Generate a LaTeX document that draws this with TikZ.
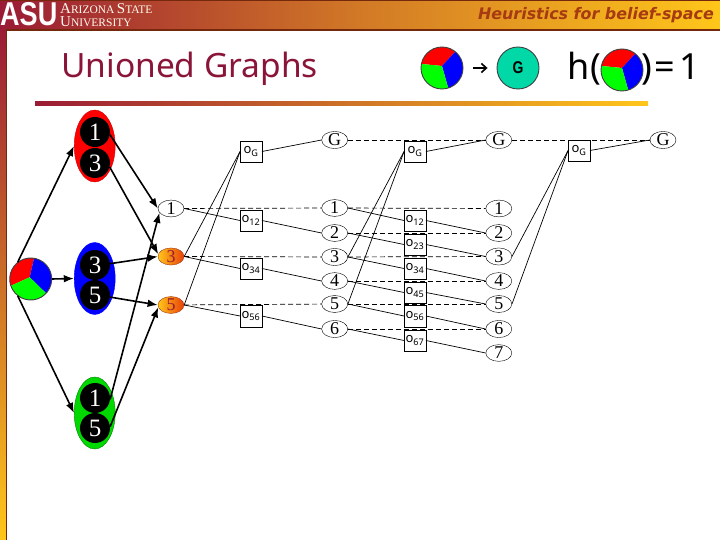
\documentclass[tikz,border=0pt]{standalone}
\usepackage{fontspec}
\setmainfont{Liberation Serif}
\newfontfamily\slidefont{Noto Sans}
\newfontfamily\headfont{DejaVu Sans}
\newfontfamily\logofont[FakeStretch=0.82]{Liberation Sans}
\usetikzlibrary{arrows.meta,positioning,shapes.geometric}
\definecolor{asumaroon}{HTML}{9A1B35}
\definecolor{asugold}{HTML}{FFC61A}
\definecolor{asurust}{HTML}{A63A12}
\definecolor{titlered}{HTML}{8A1538}
\definecolor{goalgreen}{HTML}{00D8A8}
\definecolor{hotred}{HTML}{E8400A}
\newcommand{\capsize}[2]{{\fontsize{#1}{#1}\selectfont #2}}

\begin{document}
\begin{tikzpicture}[
  x=1pt,y=-1pt,
  >=Latex,
  fact/.style={
    draw,
    ellipse,
    fill=white,
    inner sep=0pt,
    minimum width=26pt,
    minimum height=15.5pt,
    font=\fontsize{18}{18}\selectfont
  },
  hotfact/.style={
    fact,
    draw=asurust,
    left color=asugold,
    right color=hotred,
    text=asumaroon
  },
  action/.style={
    draw,
    fill=white,
    inner sep=0pt,
    minimum width=21.5pt,
    minimum height=21.5pt,
    font=\slidefont\fontsize{13}{13}\selectfont
  },
  group/.style={
    draw,
    ellipse,
    inner sep=0pt,
    minimum width=41pt,
    minimum height=72pt
  },
  lit/.style={
    circle,
    fill=black,
    text=white,
    inner sep=0pt,
    minimum size=30pt,
    font=\fontsize{25}{25}\selectfont
  },
  pienode/.style={circle,inner sep=0pt,minimum size=42pt},
  beliefpie/.pic={
    \begin{scope}
      \clip (0,0) circle (21);
      \fill[red] (0,-2) -- (-30,-5) -- (-30,-30) -- (26,-30) -- cycle;
      \fill[blue] (0,-2) -- (26,-30) -- (30,-30) -- (30,30) -- (9,30) -- cycle;
      \fill[green] (0,-2) -- (9,30) -- (-30,30) -- (-30,-5) -- cycle;
    \end{scope}
    \draw[black!75,line width=0.9pt] (0,0) circle (21);
  },
  school/.style={anchor=base west,inner sep=0pt,text height=0pt,text depth=0pt,text=white!92!asugold},
  heavy/.style={->,line width=1.6pt},
  noop/.style={line width=0.7pt,dash pattern=on 5pt off 3pt},
  link/.style={line width=0.7pt}
]
  \useasboundingbox (0,0) rectangle (720,540);

  % slide frame
  \shade[left color=asumaroon,right color=asugold,middle color=asugold!55!asumaroon] (0,0) rectangle (720,30);
  \fill[asurust!70!black] (0,0) rectangle (720,1);
  \fill[asurust!70!black] (0,29.5) rectangle (720,31);
  \shade[top color=asumaroon,bottom color=asugold] (0,30) rectangle (6,540);
  \fill[asurust!70!black] (6,30) rectangle (7,540);
  \shade[left color=asumaroon,right color=asugold] (35,102) rectangle (648,106);

  \node[anchor=base west,inner sep=0pt,text=white,font=\logofont\bfseries\fontsize{33}{33}\selectfont] (logo) at (0,26) {ASU};
  \node[school] (arizona) at (60,13.5) {\capsize{15}{A}\capsize{11.5}{RIZONA} \capsize{15}{S}\capsize{11.5}{TATE}};
  \node[school] (university) at (60,26.5) {\capsize{15}{U}\capsize{11.5}{NIVERSITY}};
  \node[anchor=east,inner sep=0pt,text=asurust,font=\headfont\bfseries\itshape\fontsize{15.9}{15.9}\selectfont] (header) at (714,15) {Heuristics for belief-space};
  \node[anchor=base west,inner sep=0pt,text=titlered,font=\slidefont\fontsize{33.5}{33.5}\selectfont] (title) at (61,78) {Unioned Graphs};

  % heuristic legend
  \node[pienode] (start) at (442,68) {};
  \pic at (start) {beliefpie};
  \node[pienode,draw=black!75,line width=0.9pt,fill=goalgreen,font=\logofont\bfseries\fontsize{17}{17}\selectfont] (goal) at (518,68) {G};
  \draw[-{Straight Barb[length=5pt,width=9pt]},line width=1.6pt,shorten <=10pt,shorten >=9pt] (start) -- (goal);
  \node[pienode] (hstate) at (622,70) {};
  \node[anchor=base east,inner sep=0pt,font=\slidefont\fontsize{36}{36}\selectfont] (hleft) at (601,80) {h(};
  \node[anchor=base west,inner sep=0pt,font=\slidefont\fontsize{36}{36}\selectfont] (hright) at (641,80) {)\kern3pt=\kern3.5pt 1};
  \pic at (hstate) {beliefpie};

  % belief and its clauses
  \node[pienode] (belief) at (30.7,279) {};
  \pic[rotate=30] at (belief) {beliefpie};
  \node[group,draw=red!80!black,fill=red] (redset) at (94.7,146) {};
  \node[group,draw=blue,fill=blue] (blueset) at (94.7,278.5) {};
  \node[group,draw=green!50!black,fill=green!85!black] (greenset) at (94.7,413) {};
  \node[lit] (r1) at (95,132) {1};
  \node[lit] (r3) at (95,163) {3};
  \node[lit] (b3) at (95,265) {3};
  \node[lit] (b5) at (95,295) {5};
  \node[lit] (g1) at (95,398) {1};
  \node[lit] (g5) at (95,428) {5};

  % level 0
  \node[fact] (a1) at (171,208.5) {1};
  \node[hotfact] (a3) at (171,256.5) {3};
  \node[hotfact] (a5) at (171,305) {5};
  \node[action] (ag) at (251,151.5) {o\textsubscript{G}};
  \node[action] (a12) at (251,220.5) {o\textsubscript{12}};
  \node[action] (a34) at (251,268.5) {o\textsubscript{34}};
  \node[action] (a56) at (251,316) {o\textsubscript{56}};

  % level 1
  \node[fact] (bG) at (334.7,140) {G};
  \node[fact] (b1f) at (334.7,208) {1};
  \node[fact] (b2f) at (334.7,233) {2};
  \node[fact] (b3f) at (334.7,257) {3};
  \node[fact] (b4f) at (334.7,281) {4};
  \node[fact] (b5f) at (334.7,304) {5};
  \node[fact] (b6f) at (334.7,329) {6};
  \node[action] (og) at (415,151.5) {o\textsubscript{G}};
  \node[action] (o12) at (415,220.5) {o\textsubscript{12}};
  \node[action] (o23) at (415,244.5) {o\textsubscript{23}};
  \node[action] (o34) at (415,268.5) {o\textsubscript{34}};
  \node[action] (o45) at (415,292.5) {o\textsubscript{45}};
  \node[action] (o56) at (415,316) {o\textsubscript{56}};
  \node[action] (o67) at (415,340.5) {o\textsubscript{67}};

  % level 2
  \node[fact] (cG) at (498.8,140) {G};
  \node[fact] (c1) at (498.8,208.5) {1};
  \node[fact] (c2) at (498.8,233) {2};
  \node[fact] (c3) at (498.8,256.5) {3};
  \node[fact] (c4) at (498.8,281) {4};
  \node[fact] (c5) at (498.8,304) {5};
  \node[fact] (c6) at (498.8,329) {6};
  \node[fact] (c7) at (498.8,353) {7};
  \node[action] (pg) at (579,150.5) {o\textsubscript{G}};
  \node[fact] (dG) at (663,140) {G};

  \draw[heavy] (belief.128) -- (redset.180);
  \draw[heavy] (belief.east) -- (blueset.west);
  \draw[heavy] (belief.232) -- (greenset.180);
  \draw[heavy] (r1.-10) -- (a1.west);
  \draw[heavy] (r3.-15) -- (a3.170);
  \draw[heavy] (b3.5) -- (a3.west);
  \draw[heavy] (b5.-8) -- (a5.west);
  \draw[heavy] (g1.-5) -- (a1.200);
  \draw[heavy] (g5.5) -- (a5.190);

  \draw[noop] (a1) -- (b1f);
  \draw[noop] (a3) -- (b3f);
  \draw[noop] (a5) -- (b5f);
  \draw[noop] (bG) -- (cG);
  \draw[noop] (b1f) -- (c1);
  \draw[noop] (b2f) -- (c2);
  \draw[noop] (b3f) -- (c3);
  \draw[noop] (b4f) -- (c4);
  \draw[noop] (b5f) -- (c5);
  \draw[noop] (b6f) -- (c6);
  \draw[noop] (cG) -- (dG);

  \draw[link] (a3.east) -- (ag.west);
  \draw[link] (a5.east) -- (ag.west);
  \draw[link] (ag.east) -- (bG.west);
  \draw[link] (a1.east) -- (a12.west);
  \draw[link] (a12.east) -- (b2f.west);
  \draw[link] (a3.east) -- (a34.west);
  \draw[link] (a34.east) -- (b4f.west);
  \draw[link] (a5.east) -- (a56.west);
  \draw[link] (a56.east) -- (b6f.west);

  \draw[link] (b3f.east) -- (og.west);
  \draw[link] (b5f.east) -- (og.west);
  \draw[link] (og.east) -- (cG.west);
  \draw[link] (b1f.east) -- (o12.west);
  \draw[link] (o12.east) -- (c2.west);
  \draw[link] (b2f.east) -- (o23.west);
  \draw[link] (o23.east) -- (c3.west);
  \draw[link] (b3f.east) -- (o34.west);
  \draw[link] (o34.east) -- (c4.west);
  \draw[link] (b4f.east) -- (o45.west);
  \draw[link] (o45.east) -- (c5.west);
  \draw[link] (b5f.east) -- (o56.west);
  \draw[link] (o56.east) -- (c6.west);
  \draw[link] (b6f.east) -- (o67.west);
  \draw[link] (o67.east) -- (c7.west);

  \draw[link] (c3.east) -- (pg.west);
  \draw[link] (c5.east) -- (pg.west);
  \draw[link] (pg.east) -- (dG.west);
\end{tikzpicture}
\end{document}
